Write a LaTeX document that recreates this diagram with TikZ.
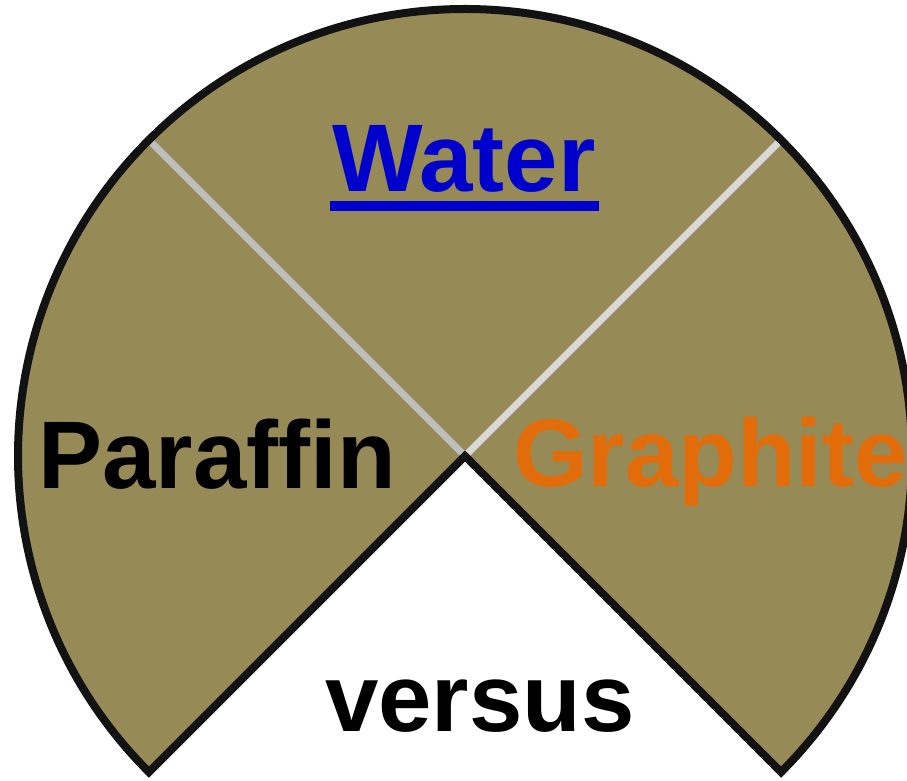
\documentclass[tikz,border=0pt]{standalone}
\usepackage{fontspec}
\setmainfont{Liberation Sans}
\usetikzlibrary{calc}
\definecolor{olive}{HTML}{968A56}
\definecolor{wblue}{HTML}{0000CC}
\definecolor{gorange}{HTML}{E36C0A}
\definecolor{lgrayA}{HTML}{BEBEBE}
\definecolor{lgrayB}{HTML}{D9D9D9}
\tikzset{
  lbl/.style={inner sep=0pt, font=\bfseries\fontsize{96}{96}\selectfont},
  divider/.style={line width=7pt},
}
\begin{document}
\begin{tikzpicture}[x=1pt,y=1pt]
\useasboundingbox (0,0) rectangle (907,781);
\coordinate (c) at (465,325);
\fill[olive] (c) -- ++(-45:447) arc[start angle=-45, end angle=225, radius=447] -- cycle;
\coordinate (dl) at ($(c)+(135:447)$);
\coordinate (dr) at ($(c)+(45:447)$);
\draw[divider, lgrayA] (c) -- (dl);
\draw[divider, lgrayB] (c) -- (dr);
\draw[line width=8pt, black!93, line join=miter] (c) -- ++(-45:447) arc[start angle=-45, end angle=225, radius=447] -- cycle;
\node[lbl, text=wblue, anchor=base] (water) at (464,589) {Water};
\fill[wblue] ([xshift=-2pt,yshift=-9pt]water.base west) rectangle ([xshift=3pt,yshift=-19pt]water.base east);
\node[lbl, text=black, anchor=base] (paraffin) at (217,292) {Paraffin};
\node[lbl, text=gorange, anchor=base west] (graphite) at (513,294) {Graphite};
\node[lbl, text=black, anchor=base] (versus) at (480,49) {versus};
\end{tikzpicture}
\end{document}
